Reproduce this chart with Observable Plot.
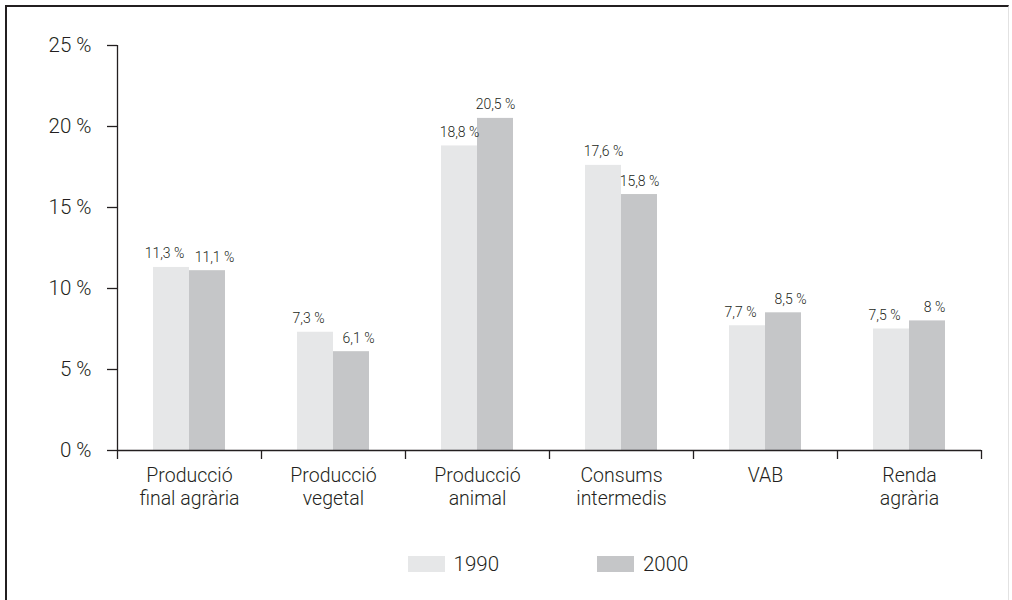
<!DOCTYPE html>
<html>
<head>
<meta charset="utf-8">
<script src="https://cdn.jsdelivr.net/npm/d3@7"></script>
<script src="https://cdn.jsdelivr.net/npm/@observablehq/plot@0.6"></script>
<style>
  html, body { margin: 0; padding: 0; background: #fff; }
  body { width: 1012px; height: 600px; overflow: hidden; position: relative; font-family: Roboto, "Liberation Sans", Arial, sans-serif; font-weight: 300; }
  #frame { position: absolute; left: 5px; top: 5px; width: 1004px; height: 700px; border-left: 2px solid #231f20; border-top: 2px solid #231f20; border-right: 1px solid #e2e2e2; box-sizing: border-box; pointer-events: none; }
  #chart { position: absolute; left: 0; top: 0; }
  #chart svg text { font-weight: 300; }
  #legend { position: absolute; left: 0; top: 552px; width: 1012px; display: flex; justify-content: center; padding-left: 84px; box-sizing: border-box; gap: 98px; font-size: 20.5px; color: #231f20; }
  .item { display: flex; align-items: center; gap: 9px; }
  .sw { width: 37px; height: 16px; display: inline-block; }
</style>
</head>
<body>
<div id="frame"></div>
<div id="chart"></div>
<div id="legend"></div>
<script>
const categories = ["Producció\nfinal agrària", "Producció\nvegetal", "Producció\nanimal", "Consums\nintermedis", "VAB", "Renda\nagrària"];
const years = ["1990", "2000"];
const values1990 = [11.3, 7.3, 18.8, 17.6, 7.7, 7.5];
const values2000 = [11.1, 6.1, 20.5, 15.8, 8.5, 8];
const yTicks = [0, 5, 10, 15, 20, 25];
const colors = ["#e6e7e8", "#c5c6c8"];

const W = 1012, H = 530, ML = 117, MR = 31, MT = 45, MB = 80;
const step = (W - ML - MR) / categories.length;
const q = step / 4;

const d1990 = categories.map((c, i) => ({cat: c, year: years[0], v: values1990[i], other: values2000[i]}));
const d2000 = categories.map((c, i) => ({cat: c, year: years[1], v: values2000[i], other: values1990[i]}));
const fmt = v => String(v).replace(".", ",") + " %";
const ink = "#231f20";
// labels of bars with close heights are nudged apart so they do not collide
const push = d => Math.abs(d.v - d.other) < 1.5 ? 7 : 0;

const chart = Plot.plot({
  width: W, height: H,
  marginLeft: ML, marginRight: MR, marginTop: MT, marginBottom: MB,
  style: {fontFamily: 'Roboto, "Liberation Sans", Arial, sans-serif', color: ink, background: "transparent"},
  x: {domain: categories, padding: 0, label: null},
  y: {domain: [0, 25], label: null},
  marks: [
    Plot.barY(d1990, {x: "cat", y: "v", fill: colors[0], insetLeft: q, insetRight: 2 * q}),
    Plot.barY(d2000, {x: "cat", y: "v", fill: colors[1], insetLeft: 2 * q, insetRight: q}),
    ...d1990.map(d => Plot.text([d], {x: "cat", y: "v", text: d => fmt(d.v), dx: -q / 2 - push(d), dy: -9, lineAnchor: "bottom", fontSize: 14, fill: ink})),
    ...d2000.map(d => Plot.text([d], {x: "cat", y: "v", text: d => fmt(d.v), dx: q / 2 + push(d), dy: -9, lineAnchor: "bottom", fontSize: 14, fill: ink})),
    Plot.ruleY([0], {stroke: ink, strokeWidth: 1.3}),
    Plot.ruleX([categories[0]], {x: d => d, dx: -2 * q, y1: 0, y2: 25, stroke: ink, strokeWidth: 1.3}),
    Plot.axisY({ticks: yTicks, tickSize: 10, tickPadding: 16, tickFormat: d => d + " %", fontSize: 20.5, stroke: ink, fill: ink, strokeWidth: 1.3}),
    Plot.axisX({ticks: categories, tickSize: 9, tickFormat: () => "", dx: -2 * q, stroke: ink, strokeWidth: 1.3}),
    Plot.axisX({ticks: [categories[categories.length - 1]], tickSize: 9, tickFormat: () => "", dx: 2 * q, stroke: ink, strokeWidth: 1.3}),
    Plot.axisX({ticks: categories, tickSize: 0, tickPadding: 15, fontSize: 19.5, lineHeight: 1.17, fill: ink})
  ]
});
document.getElementById("chart").append(chart);

const legend = document.getElementById("legend");
years.forEach((y, i) => {
  const item = document.createElement("div");
  item.className = "item";
  const sw = document.createElement("span");
  sw.className = "sw";
  sw.style.background = colors[i];
  const t = document.createElement("span");
  t.textContent = y;
  item.append(sw, t);
  legend.append(item);
});
</script>
</body>
</html>
